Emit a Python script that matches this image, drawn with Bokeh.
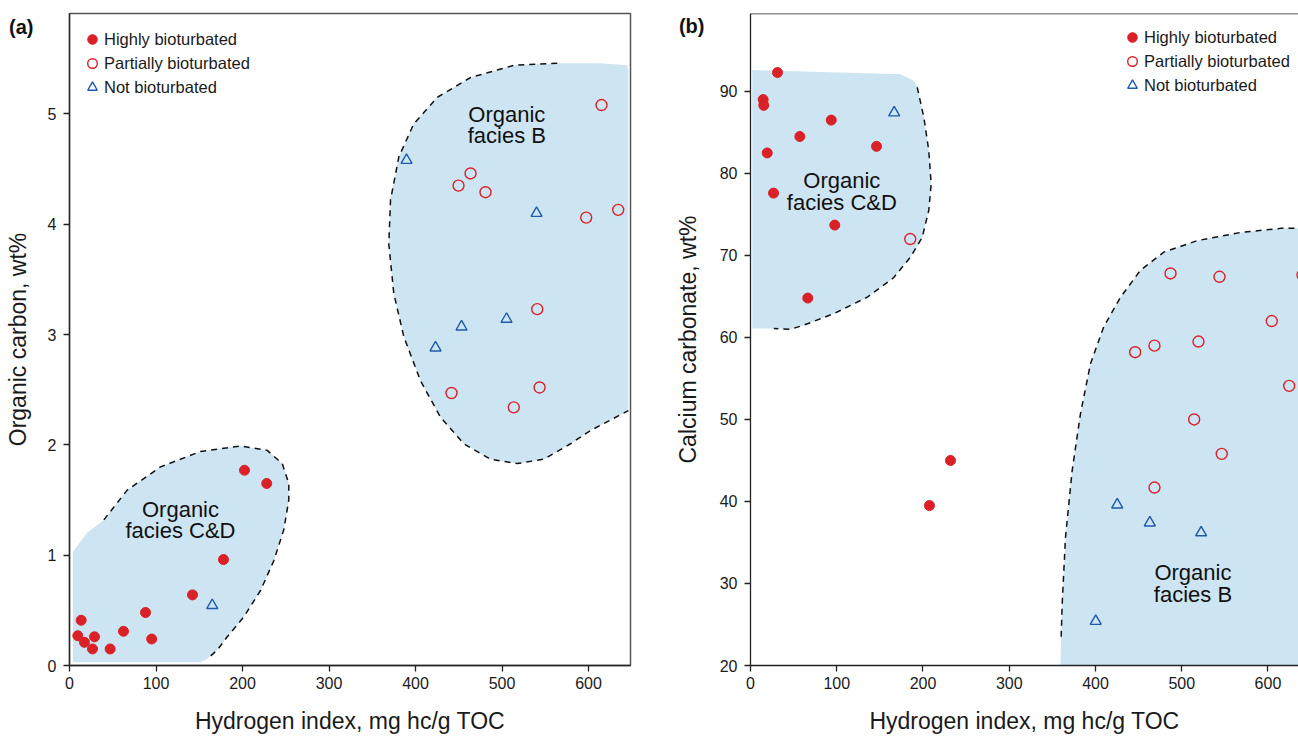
from bokeh.plotting import figure
from bokeh.layouts import row
from bokeh.models import Label, Legend, LegendItem, Span, Range1d, FixedTicker, LinearAxis
from bokeh.embed import file_html
from bokeh.resources import INLINE

# ---------------- data: panel (a) HI vs TOC ----------------
hi_a_x = [13.5, 9.6, 17.3, 28.9, 26.6, 47, 62.4, 95, 87.9, 142.2, 178, 202.3, 228]
hi_a_y = [0.41, 0.27, 0.21, 0.26, 0.15, 0.15, 0.31, 0.24, 0.48, 0.64, 0.96, 1.77, 1.65]
part_a_x = [615, 463.6, 449.7, 480.9, 597.3, 634.3, 540.7, 441.6, 513.6, 543.4]
part_a_y = [5.08, 4.46, 4.35, 4.29, 4.06, 4.13, 3.23, 2.47, 2.34, 2.52]
not_a_x = [165, 389.6, 539.9, 505.2, 453.2, 423.1]
not_a_y = [0.545, 4.58, 4.10, 3.14, 3.07, 2.88]

# ---------------- data: panel (b) HI vs CaCO3 ----------------
hi_b_x = [31.3, 14.7, 15.4, 93.6, 57.2, 146.1, 19.4, 26.7, 97.7, 66.4, 231.9, 207.5]
hi_b_y = [92.3, 89.0, 88.3, 86.5, 84.5, 83.3, 82.5, 77.6, 73.7, 64.8, 45.0, 39.5]
part_b_x = [185.2, 487, 543.8, 640, 604.4, 468.4, 446, 519.4, 624.6, 514.4, 546.4, 468.4]
part_b_y = [72.0, 67.8, 67.4, 67.6, 62.0, 59.0, 58.2, 59.5, 54.1, 50.0, 45.8, 41.7]
not_b_x = [166.6, 425.2, 463, 522.5, 400.3]
not_b_y = [87.4, 39.6, 37.4, 36.2, 25.4]

# ---------------- facies fields (outlines) ----------------
cd_a_x = [4, 4, 20, 39.7, 66.7, 105.2, 151.4, 197.7, 228.6, 245.9, 253.5, 253.5, 247.7, 236.2, 220.8, 201.5, 182.3, 170.8, 159.2, 151.4]
cd_a_y = [0.03, 1.03, 1.2, 1.32, 1.59, 1.80, 1.94, 1.99, 1.95, 1.83, 1.65, 1.50, 1.23, 0.95, 0.68, 0.44, 0.26, 0.14, 0.06, 0.03]
cd_a_dash = (3, 18)

b_a_x = [646, 644.7, 613.9, 563.8, 513.6, 463.6, 425.1, 398.0, 380.7, 371.1, 369.1, 374.9, 386.5, 405.8, 428.9, 455.8, 486.7, 517.6, 548.3, 579.2, 602.3, 646]
b_a_y = [5.39, 5.44, 5.46, 5.46, 5.44, 5.33, 5.15, 4.91, 4.61, 4.22, 3.82, 3.37, 2.98, 2.58, 2.25, 2.01, 1.87, 1.83, 1.87, 2.01, 2.13, 2.31]
b_a_dash = (3, 21)

cd_b_x = [2, 2, 173.9, 189.3, 193.3, 200.9, 206.7, 209.5, 206.7, 199.1, 185.5, 166.1, 135.3, 96.6, 61.8, 46.4, 27.0]
cd_b_y = [61.1, 92.6, 92.1, 91.3, 90.5, 86.9, 82.8, 78.7, 75.5, 72.2, 69.8, 67.3, 64.9, 62.9, 61.5, 61.0, 61.1]
cd_b_dash = (4, 16)

b_b_x = [359.4, 360.2, 361.4, 365.2, 373.0, 382.6, 394.2, 409.6, 429.0, 452.2, 479.2, 517.9, 568.1, 614.5, 660, 660]
b_b_y = [20.0, 23.5, 27.5, 35.6, 43.8, 50.7, 56.8, 61.3, 64.9, 68.2, 70.4, 71.8, 72.8, 73.3, 73.3, 20.0]
b_b_dash = (1, 14)

x_ticks = [0, 100, 200, 300, 400, 500, 600]
y_ticks_a = [0, 1, 2, 3, 4, 5]
y_ticks_b = [20, 30, 40, 50, 60, 70, 80, 90]

legend_labels = ["Highly bioturbated", "Partially bioturbated", "Not bioturbated"]
x_label = "Hydrogen index, mg hc/g TOC"

RED = "#db2128"
BLUE = "#1f5aa8"
FILL = "#cde5f2"
FONT = "Liberation Sans"


def style(p, yticks):
    p.grid.visible = False
    p.xaxis.ticker = FixedTicker(ticks=x_ticks)
    p.yaxis.ticker = FixedTicker(ticks=yticks)
    p.xaxis.axis_label = x_label
    p.axis.minor_tick_line_color = None
    p.axis.major_tick_in = 0
    p.axis.major_tick_out = 6
    p.axis.axis_line_color = "#222222"
    p.axis.axis_line_width = 1.3
    p.axis.major_tick_line_color = "#222222"
    p.axis.major_tick_line_width = 1.3
    p.axis.major_label_text_font = FONT
    p.axis.major_label_text_font_size = "16px"
    p.axis.major_label_text_color = "#1a1a1a"
    p.axis.axis_label_text_font = FONT
    p.axis.axis_label_text_font_size = "23px"
    p.axis.axis_label_text_font_style = "normal"
    p.axis.axis_label_text_color = "#1a1a1a"
    p.xaxis.major_label_standoff = 5
    p.yaxis.major_label_standoff = 7
    p.xaxis.axis_label_standoff = 16


def outer_axis(p, ylabel, ytick, tag, tag_standoff, label_standoff):
    # outer left axis: carries the panel tag as its only tick label, and the axis title
    ax = LinearAxis(ticker=FixedTicker(ticks=[ytick]),
                    major_label_overrides={ytick: tag},
                    axis_line_color=None, major_tick_line_color=None, minor_tick_line_color=None,
                    major_tick_in=0, major_tick_out=0, major_label_standoff=tag_standoff,
                    major_label_text_font=FONT, major_label_text_font_style="bold",
                    major_label_text_font_size="20px", major_label_text_color="#111111",
                    axis_label=ylabel, axis_label_standoff=label_standoff,
                    axis_label_text_font=FONT, axis_label_text_font_size="23px",
                    axis_label_text_font_style="normal", axis_label_text_color="#1a1a1a")
    p.add_layout(ax, "left")


def add_field(p, xs, ys, dash):
    p.patch(xs, ys, fill_color=FILL, line_color=None)
    i0, i1 = dash
    p.line(xs[i0:i1 + 1], ys[i0:i1 + 1], line_color="#111111", line_width=1.5, line_dash="6 5")


def add_points(p, hx, hy, px, py, nx, ny, loc):
    r1 = p.scatter(hx, hy, marker="circle", size=10, fill_color=RED, line_color=RED)
    r2 = p.scatter(px, py, marker="circle", size=11, fill_color=None, line_color=RED, line_width=1.4)
    r3 = p.scatter(nx, ny, marker="triangle", size=11, fill_color=None, line_color=BLUE, line_width=1.4)
    leg = Legend(items=[LegendItem(label=legend_labels[0], renderers=[r1]),
                        LegendItem(label=legend_labels[1], renderers=[r2]),
                        LegendItem(label=legend_labels[2], renderers=[r3])],
                 location=loc, padding=0, margin=0, spacing=-1,
                 glyph_width=24, glyph_height=24, label_height=20, label_standoff=0,
                 label_text_font=FONT, label_text_font_size="16.5px", label_text_color="#1a1a1a",
                 border_line_color=None, background_fill_alpha=0)
    p.add_layout(leg)


def facies_label(p, x, y, text):
    p.add_layout(Label(x=x, y=y, text=text, text_align="center", text_baseline="middle",
                       text_font=FONT, text_font_size="22px", text_line_height=0.87,
                       text_color="#111111"))


# ---------------- panel (a) ----------------
pa = figure(width=671, height=736, x_range=Range1d(0, 648.5), y_range=Range1d(0, 5.91),
            output_backend="svg", toolbar_location=None,
            min_border_left=69, min_border_right=41, min_border_top=13, min_border_bottom=71)
pa.outline_line_color = "#555555"
pa.outline_line_width = 1.5
style(pa, y_ticks_a)
outer_axis(pa, "Organic carbon, wt%", 5.79, "(a)", 11, -25)
add_field(pa, cd_a_x, cd_a_y, cd_a_dash)
add_field(pa, b_a_x, b_a_y, b_a_dash)
add_points(pa, hi_a_x, hi_a_y, part_a_x, part_a_y, not_a_x, not_a_y, (11, 566))
facies_label(pa, 128.3, 1.32, "Organic\nfacies C&D")
facies_label(pa, 505.5, 4.90, "Organic\nfacies B")

# ---------------- panel (b) ----------------
pb = figure(width=627, height=736, x_range=Range1d(0, 635.4), y_range=Range1d(20, 99.5),
            output_backend="svg", toolbar_location=None,
            min_border_left=79, min_border_right=0, min_border_top=13, min_border_bottom=71)
pb.outline_line_color = None
style(pb, y_ticks_b)
outer_axis(pb, "Calcium carbonate, wt%", 98, "(b)", 12, -25)
add_field(pb, cd_b_x, cd_b_y, cd_b_dash)
add_field(pb, b_b_x, b_b_y, b_b_dash)
add_points(pb, hi_b_x, hi_b_y, part_b_x, part_b_y, not_b_x, not_b_y, (370, 568))
facies_label(pb, 105.9, 77.8, "Organic\nfacies C&D")
facies_label(pb, 513, 29.96, "Organic\nfacies B")
pb.add_layout(Span(location=99.5, dimension="width", line_color="#222222", line_width=1.5))

layout = row(pa, pb)
open("out.html", "w").write(file_html(layout, INLINE, "chart"))
